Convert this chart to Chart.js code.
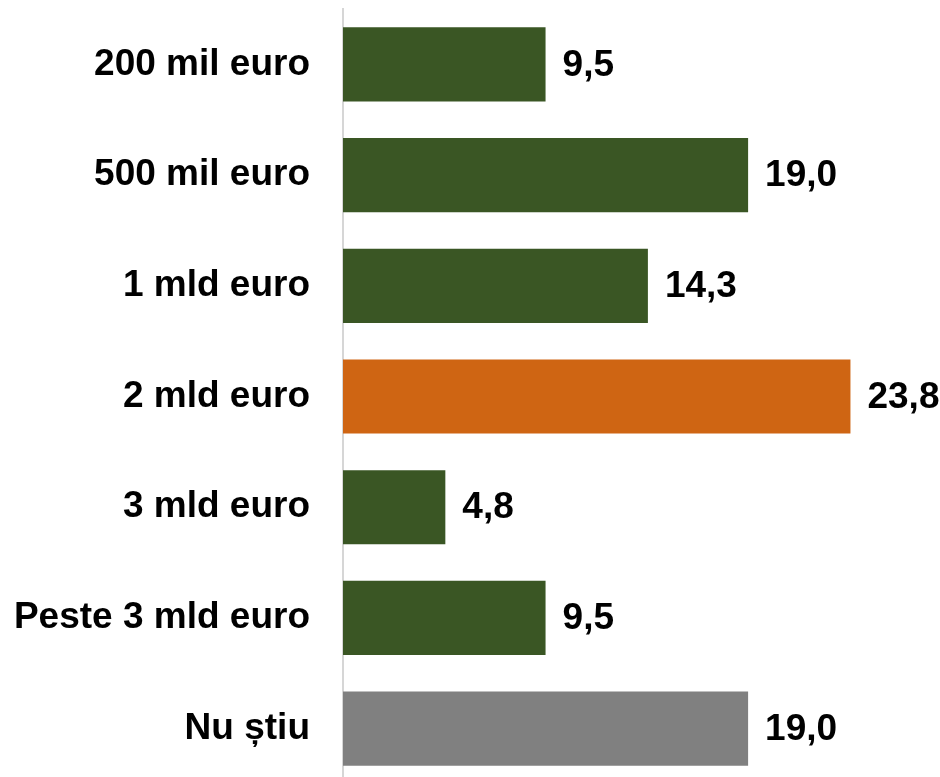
<!DOCTYPE html>
<html>
<head>
<meta charset="utf-8">
<script src="https://cdn.jsdelivr.net/npm/chart.js@4/dist/chart.umd.min.js"></script>
<style>
  html, body { margin: 0; padding: 0; background: #ffffff; overflow: hidden; }
  #wrap { width: 940px; height: 784px; }
</style>
</head>
<body>
<div id="wrap"><canvas id="chart" width="940" height="784"></canvas></div>
<script>
// date
const categories = ['200 mil euro', '500 mil euro', '1 mld euro', '2 mld euro', '3 mld euro', 'Peste 3 mld euro', 'Nu știu'];
const values = [9.5, 19.0, 14.3, 23.8, 4.8, 9.5, 19.0];
const barColors = ['#3a5624', '#3a5624', '#3a5624', '#cf6513', '#3a5624', '#3a5624', '#808080'];

const FONT = 'Arial, "Liberation Sans", sans-serif';

// etichete cu valori la capătul barelor (virgulă zecimală)
const valueLabels = {
    id: 'valueLabels',
    afterDatasetsDraw(chart) {
        const ctx = chart.ctx;
        const meta = chart.getDatasetMeta(0);
        ctx.save();
        ctx.font = 'bold 37px ' + FONT;
        ctx.fillStyle = '#000000';
        ctx.textAlign = 'left';
        ctx.textBaseline = 'middle';
        meta.data.forEach((bar, i) => {
            const txt = values[i].toFixed(1).replace('.', ',');
            ctx.fillText(txt, bar.x + 17, bar.y + 1);
        });
        ctx.restore();
    }
};

new Chart(document.getElementById('chart'), {
    type: 'bar',
    data: {
        labels: categories,
        datasets: [{
            data: values,
            backgroundColor: barColors,
            borderWidth: 0,
            barPercentage: 0.67,
            categoryPercentage: 1.0
        }]
    },
    options: {
        indexAxis: 'y',
        responsive: false,
        animation: false,
        layout: { padding: { top: 9, right: 0, bottom: 0, left: 0 } },
        plugins: {
            legend: { display: false },
            tooltip: { enabled: false }
        },
        scales: {
            x: {
                display: false,
                min: 0,
                max: 28
            },
            y: {
                grid: { display: false, drawTicks: false },
                border: { display: true, color: '#d6d6d6', width: 2 },
                ticks: {
                    color: '#000000',
                    padding: 33,
                    font: { family: FONT, size: 37, weight: 'bold' }
                },
                afterFit(scale) {
                    scale.width = 343;
                    // fără spațiu suplimentar sus/jos pentru etichete
                    scale.paddingTop = 0;
                    scale.paddingBottom = 0;
                }
            }
        }
    },
    plugins: [valueLabels]
});
</script>
</body>
</html>
